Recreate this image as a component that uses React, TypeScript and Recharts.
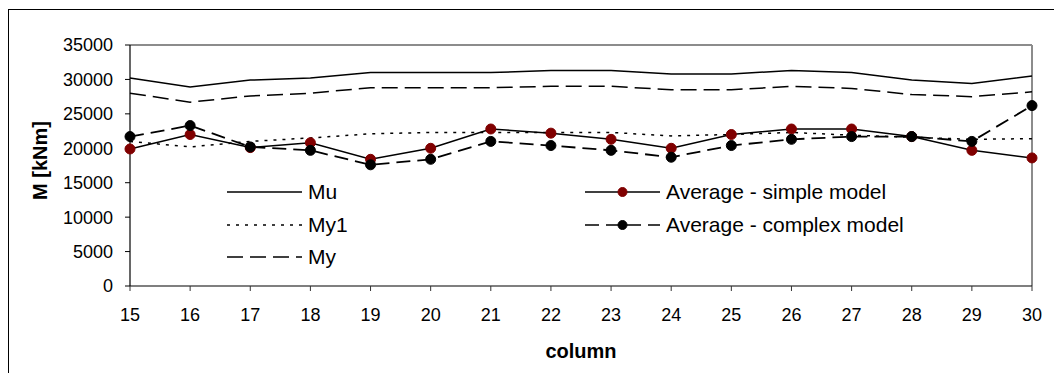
import React from 'react';
import { LineChart, Line, XAxis, YAxis, Legend, ReferenceLine, Label } from 'recharts';

const columns = [15, 16, 17, 18, 19, 20, 21, 22, 23, 24, 25, 26, 27, 28, 29, 30];
const mu = [30200, 28900, 29900, 30200, 31000, 31000, 31000, 31300, 31300, 30800, 30800, 31300, 31000, 29900, 29400, 30500];
const my1 = [21000, 20200, 21000, 21500, 22100, 22300, 22300, 22300, 22300, 21800, 22000, 22300, 21900, 21600, 21300, 21400];
const my = [28000, 26700, 27600, 28000, 28800, 28800, 28800, 29000, 29000, 28500, 28500, 29000, 28700, 27800, 27500, 28200];
const avgSimple = [19900, 22000, 20100, 20800, 18400, 20000, 22800, 22200, 21300, 20000, 22000, 22800, 22800, 21700, 19700, 18600];
const avgComplex = [21700, 23300, 20200, 19700, 17600, 18400, 21000, 20400, 19700, 18700, 20400, 21300, 21700, 21700, 21000, 26200];
const yTicks = [0, 5000, 10000, 15000, 20000, 25000, 30000, 35000];

const seriesNames = {
  mu: 'Mu',
  my1: 'My1',
  my: 'My',
  avgSimple: 'Average - simple model',
  avgComplex: 'Average - complex model',
};

const data = columns.map((c, i) => ({
  column: c,
  mu: mu[i],
  my1: my1[i],
  my: my[i],
  avgSimple: avgSimple[i],
  avgComplex: avgComplex[i],
}));

const FONT = '"Liberation Sans", Arial, sans-serif';

const styles: Record<string, { dash?: string; marker?: string }> = {
  mu: {},
  my1: { dash: '3 6' },
  my: { dash: '16 7' },
  avgSimple: { marker: '#800000' },
  avgComplex: { dash: '14 7', marker: '#000000' },
};

const legendOrder = ['mu', 'my1', 'my', 'avgSimple', 'avgComplex'];

const LegendContent = () => (
  <div
    style={{
      display: 'grid',
      gridTemplateRows: 'repeat(3, 32.5px)',
      gridTemplateColumns: '358px 380px',
      gridAutoFlow: 'column',
      fontFamily: FONT,
      fontSize: 21,
      color: '#000',
    }}
  >
    {legendOrder.map((key) => {
      const s = styles[key];
      return (
        <div key={key} style={{ display: 'flex', alignItems: 'center', whiteSpace: 'nowrap' }}>
          <svg width={75} height={16} style={{ display: 'block' }}>
            <line x1={0} y1={8} x2={75} y2={8} stroke="#000" strokeWidth={1.5} strokeDasharray={s.dash} />
            {s.marker && <circle cx={37.5} cy={8} r={4.5} fill={s.marker} stroke={s.marker} />}
          </svg>
          <span style={{ marginLeft: 6 }}>{(seriesNames as any)[key]}</span>
        </div>
      );
    })}
  </div>
);

export default function App() {
  return (
    <div
      style={{
        width: 1054,
        height: 363,
        marginTop: 1,
        borderLeft: '1px solid #000',
        borderTop: '1px solid #000',
        background: '#fff',
        overflow: 'hidden',
      }}
    >
      <LineChart
        width={1053}
        height={362}
        data={data}
        margin={{ top: 35, right: 30, left: 0, bottom: 0 }}
        style={{ fontFamily: FONT }}
      >
        <XAxis
          dataKey="column"
          type="number"
          domain={[15, 30]}
          ticks={columns}
          interval={0}
          height={86}
          tickSize={5}
          tickMargin={17}
          axisLine={{ stroke: '#000', strokeWidth: 1.2 }}
          tickLine={{ stroke: '#333' }}
          tick={{ fill: '#000', fontSize: 18, fontFamily: FONT }}
        >
          <Label
            content={(props: any) => {
              const vb = props.viewBox || {};
              return (
                <text
                  x={vb.x + vb.width / 2}
                  y={vb.y + 72}
                  textAnchor="middle"
                  fontFamily={FONT}
                  fontSize={20}
                  fontWeight="bold"
                  fill="#000"
                >
                  column
                </text>
              );
            }}
          />
        </XAxis>
        <YAxis
          type="number"
          domain={[0, 35000]}
          ticks={yTicks}
          interval={0}
          width={121}
          tickSize={5}
          tickMargin={12}
          axisLine={{ stroke: '#000', strokeWidth: 1.2 }}
          tickLine={{ stroke: '#000' }}
          tick={{ fill: '#000', fontSize: 18, fontFamily: FONT }}
        >
          <Label
            content={(props: any) => {
              const vb = props.viewBox || {};
              const cx = vb.x + 38;
              const cy = vb.y + vb.height / 2 - 5;
              return (
                <text
                  x={cx}
                  y={cy}
                  transform={`rotate(-90 ${cx} ${cy})`}
                  textAnchor="middle"
                  fontFamily={FONT}
                  fontSize={20}
                  fontWeight="bold"
                  fill="#000"
                >
                  M [kNm]
                </text>
              );
            }}
          />
        </YAxis>
        <ReferenceLine y={35000} stroke="#8c8c8c" strokeWidth={2} />
        <ReferenceLine x={30} stroke="#8c8c8c" strokeWidth={2} />
        <Legend
          layout="horizontal"
          verticalAlign="middle"
          align="center"
          content={<LegendContent />}
          wrapperStyle={{ left: 218, top: 166, width: 760 }}
        />
        <Line
          dataKey="mu"
          name={seriesNames.mu}
          stroke="#000"
          strokeWidth={1.5}
          dot={false}
          isAnimationActive={false}
        />
        <Line
          dataKey="my1"
          name={seriesNames.my1}
          stroke="#000"
          strokeWidth={1.5}
          strokeDasharray={styles.my1.dash}
          dot={false}
          isAnimationActive={false}
        />
        <Line
          dataKey="my"
          name={seriesNames.my}
          stroke="#000"
          strokeWidth={1.5}
          strokeDasharray={styles.my.dash}
          dot={false}
          isAnimationActive={false}
        />
        <Line
          dataKey="avgSimple"
          name={seriesNames.avgSimple}
          stroke="#000"
          strokeWidth={1.5}
          dot={{ r: 5, fill: '#800000', stroke: '#800000', strokeWidth: 1 }}
          isAnimationActive={false}
        />
        <Line
          dataKey="avgComplex"
          name={seriesNames.avgComplex}
          stroke="#000"
          strokeWidth={1.8}
          strokeDasharray={styles.avgComplex.dash}
          dot={{ r: 5, fill: '#000', stroke: '#000', strokeWidth: 1, strokeDasharray: '' }}
          isAnimationActive={false}
        />
      </LineChart>
    </div>
  );
}
